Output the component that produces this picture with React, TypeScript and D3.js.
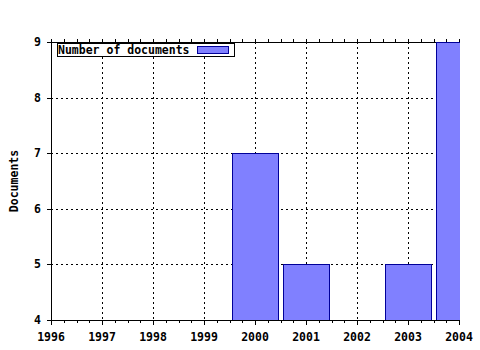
import React from "react";
import * as d3 from "d3";

const years = [1996, 1997, 1998, 1999, 2000, 2001, 2002, 2003, 2004];
const barYears = [2000, 2001, 2003, 2004];
const barValues = [7, 5, 5, 9];
const yTicks = [4, 5, 6, 7, 8, 9];
const seriesName = "Number of documents";
const yTitle = "Documents";

const W = 480;
const H = 350;
const left = 51;
const right = 459;
const top = 42;
const bottom = 320;
const FONT = "'DejaVu Sans Mono', monospace";

export default function App() {
  const x = d3.scaleLinear().domain([1996, 2004]).range([left, right]);
  const y = d3.scaleLinear().domain([4, 9]).range([bottom, top]);
  const barW = (x(1997) - x(1996)) * 0.9;
  const minor = d3.range(1996, 2004.001, 0.25);

  return (
    <svg width={W} height={H} style={{ position: "absolute", left: 0, top: 0, background: "#fff" }}>
      <defs>
        <clipPath id="plot">
          <rect x={left} y={top} width={right - left + 1} height={bottom - top} />
        </clipPath>
      </defs>
      {/* grid */}
      {years.slice(1).map((yr) => (
        <line key={"gx" + yr} x1={Math.round(x(yr)) + 0.5} x2={Math.round(x(yr)) + 0.5} y1={top} y2={bottom}
          stroke="#000" strokeDasharray="2,3" />
      ))}
      {yTicks.slice(1, -1).map((v) => (
        <line key={"gy" + v} x1={left} x2={right} y1={Math.round(y(v)) + 0.5} y2={Math.round(y(v)) + 0.5}
          stroke="#000" strokeDasharray="2,3" />
      ))}
      <line x1={left} x2={right} y1={top + 0.5} y2={top + 0.5} stroke="#000" />
      {/* bars */}
      <g clipPath="url(#plot)">
        {barYears.map((yr, i) => (
          <rect key={"b" + yr} x={Math.round(x(yr) - barW / 2) + 0.5} y={Math.round(y(barValues[i])) + 0.5}
            width={Math.round(barW)} height={Math.round(bottom - y(barValues[i]))}
            fill="#8080ff" stroke="#000099" />
        ))}
      </g>
      {/* axes */}
      <line x1={left + 0.5} x2={left + 0.5} y1={top - 3} y2={bottom} stroke="#000" />
      <line x1={left} x2={right + 1} y1={bottom + 0.5} y2={bottom + 0.5} stroke="#000" />
      {minor.map((m) => {
        const px = Math.round(x(m)) + 0.5;
        const major = Math.abs(m - Math.round(m)) < 1e-6;
        return (
          <g key={"t" + m}>
            <line x1={px} x2={px} y1={bottom} y2={bottom + (major ? 5 : 3)} stroke="#000" />
            <line x1={px} x2={px} y1={top} y2={top - 3} stroke="#000" />
          </g>
        );
      })}
      {yTicks.map((v) => (
        <line key={"yt" + v} x1={left - 4} x2={left} y1={Math.round(y(v)) + 0.5} y2={Math.round(y(v)) + 0.5} stroke="#000" />
      ))}
      {/* labels */}
      {years.map((yr) => (
        <text key={"xl" + yr} x={x(yr)} y={341} textAnchor="middle" fontFamily={FONT} fontWeight="bold" fontSize={11.5}>
          {yr}
        </text>
      ))}
      {yTicks.map((v) => (
        <text key={"yl" + v} x={41} y={y(v) + 4} textAnchor="end" fontFamily={FONT} fontWeight="bold" fontSize={11.5}>
          {v}
        </text>
      ))}
      <text transform={`translate(18,${(top + bottom) / 2}) rotate(-90)`} textAnchor="middle" fontFamily={FONT}
        fontWeight="bold" fontSize={11.5}>
        {yTitle}
      </text>
      {/* legend */}
      <rect x={57.5} y={43.5} width={177} height={13} fill="#fff" stroke="#000" />
      <text x={58} y={54} fontFamily={FONT} fontWeight="bold" fontSize={11.5}>{seriesName}</text>
      <rect x={197.5} y={46.5} width={31} height={7} fill="#8080ff" stroke="#000099" />
    </svg>
  );
}
